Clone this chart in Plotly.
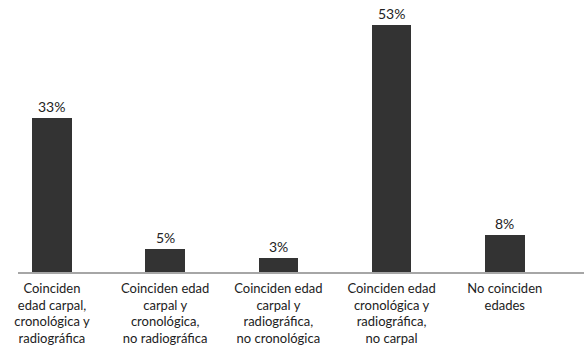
import plotly.graph_objects as go

# Agreement between carpal, chronological and radiographic ages
categories = [
    "Coinciden<br>edad carpal,<br>cronológica y<br>radiográfica",
    "Coinciden edad<br>carpal y<br>cronológica,<br>no radiográfica",
    "Coinciden edad<br>carpal y<br>radiográfica,<br>no cronológica",
    "Coinciden edad<br>cronológica y<br>radiográfica,<br>no carpal",
    "No coinciden<br>edades",
]
percentages = [33, 5, 3, 53, 8]
value_labels = [f"{v}%" for v in percentages]

FONT = "Lato, sans-serif"
TEXT_COLOR = "#222222"

fig = go.Figure(
    go.Bar(
        x=list(range(len(categories))),
        y=percentages,
        width=0.35,
        marker=dict(color="#333333", line=dict(width=0)),
        hoverinfo="skip",
    )
)

# Percentage labels sitting above each bar
for i, (v, lab) in enumerate(zip(percentages, value_labels)):
    fig.add_annotation(
        x=i, y=v, text=lab, showarrow=False,
        yanchor="bottom", yshift=1,
        font=dict(family=FONT, size=14, color=TEXT_COLOR),
    )

fig.update_layout(
    width=584, height=346,
    margin=dict(l=18, r=0, t=0, b=74),
    paper_bgcolor="white", plot_bgcolor="white",
    showlegend=False,
    font=dict(family=FONT, size=13, color=TEXT_COLOR),
    bargap=0,
)
fig.update_xaxes(
    range=[-0.3, 4.7],
    tickmode="array",
    tickvals=list(range(len(categories))),
    ticktext=categories,
    showgrid=False, zeroline=False,
    showline=True, linecolor="#a6a6a6", linewidth=2,
    ticks="", ticklabelstandoff=3,
    tickfont=dict(family=FONT, size=13, color=TEXT_COLOR),
)
fig.update_yaxes(
    range=[0, 58.4],
    visible=False, showgrid=False, zeroline=False,
)

fig.write_html("out.html")
